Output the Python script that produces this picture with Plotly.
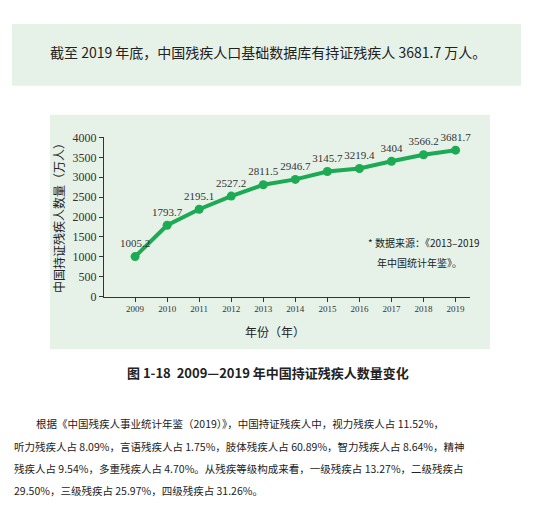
import plotly.graph_objects as go

years = [2009, 2010, 2011, 2012, 2013, 2014, 2015, 2016, 2017, 2018, 2019]
counts = [1005.2, 1793.7, 2195.1, 2527.2, 2811.5, 2946.7, 3145.7, 3219.4, 3404, 3566.2, 3681.7]
labels = ["1005.2", "1793.7", "2195.1", "2527.2", "2811.5", "2946.7", "3145.7", "3219.4", "3404", "3566.2", "3681.7"]

W, H = 539, 518
def py(y):
    y = (y - 16.4) / 0.942
    return 1 - y / H
def px(x):
    return (x - 8) / W

green = "#1daa55"
serif = "Liberation Serif"
cjk = "Noto Sans CJK SC"

fig = go.Figure()
fig.add_trace(go.Scatter(
    x=years, y=counts, mode="lines+markers+text",
    line=dict(color=green, width=4),
    marker=dict(color=green, size=9),
    text=labels, textposition="top center",
    textfont=dict(family=serif, size=11, color="#333"),
    cliponaxis=False, hoverinfo="skip",
))

fig.update_layout(
    width=W, height=H, margin=dict(l=0, r=0, t=0, b=0),
    paper_bgcolor="white", plot_bgcolor="rgba(0,0,0,0)", showlegend=False,
    xaxis=dict(domain=[px(104), px(470)], range=[2008.03, 2019.45],
               tickvals=years, ticktext=[str(y) for y in years],
               showgrid=False, zeroline=False, showline=True, linecolor="#333",
               ticks="outside", ticklen=4, tickcolor="#333",
               tickfont=dict(family=serif, size=9, color="#333")),
    yaxis=dict(domain=[py(289), py(135)], range=[0, 4000], dtick=500,
               showgrid=False, zeroline=False, showline=True, linecolor="#333",
               ticks="outside", ticklen=4, tickcolor="#333",
               tickfont=dict(family=serif, size=12, color="#333")),
    shapes=[
        dict(type="rect", xref="paper", yref="paper", layer="below",
             x0=px(12), x1=px(521), y0=py(85), y1=py(25),
             fillcolor="#e6f2e8", line=dict(width=0)),
        dict(type="rect", xref="paper", yref="paper", layer="below",
             x0=px(50), x1=px(490), y0=py(340), y1=py(113),
             fillcolor="#e6f2e8", line=dict(width=0)),
    ],
)

def note(text, x, y, size, family=cjk, anchor="left", color="#222", angle=0):
    fig.add_annotation(text=text, x=px(x), y=py(y), xref="paper", yref="paper",
                       showarrow=False, xanchor=anchor, yanchor="middle", textangle=angle,
                       font=dict(family=family, size=size, color=color))

note("截至 2019 年底，中国残疾人口基础数据库有持证残疾人 3681.7 万人。", 268, 52, 14, anchor="center")
note("中国持证残疾人数量（万人）", 59, 210, 12, anchor="center", angle=-90)
note("年份（年）", 275, 323, 12, anchor="center")
note("* 数据来源：《2013–2019", 366, 237, 10)
note("年中国统计年鉴》。", 375, 256, 10)
note("<b>图 1-18  2009—2019 年中国持证残疾人数量变化</b>", 268, 363, 13, anchor="center")

para = [
    ("根据《中国残疾人事业统计年鉴（2019）》，中国持证残疾人中，视力残疾人占 11.52%，", 412, 34),
    ("听力残疾人占 8.09%，言语残疾人占 1.75%，肢体残疾人占 60.89%，智力残疾人占 8.64%，精神", 434, 12),
    ("残疾人占 9.54%，多重残疾人占 4.70%。从残疾等级构成来看，一级残疾占 13.27%，二级残疾占", 455, 12),
    ("29.50%，三级残疾占 25.97%，四级残疾占 31.26%。", 477, 12),
]
for t, y, x in para:
    note(t, x, y, 10.5)

fig.write_html("out.html")
